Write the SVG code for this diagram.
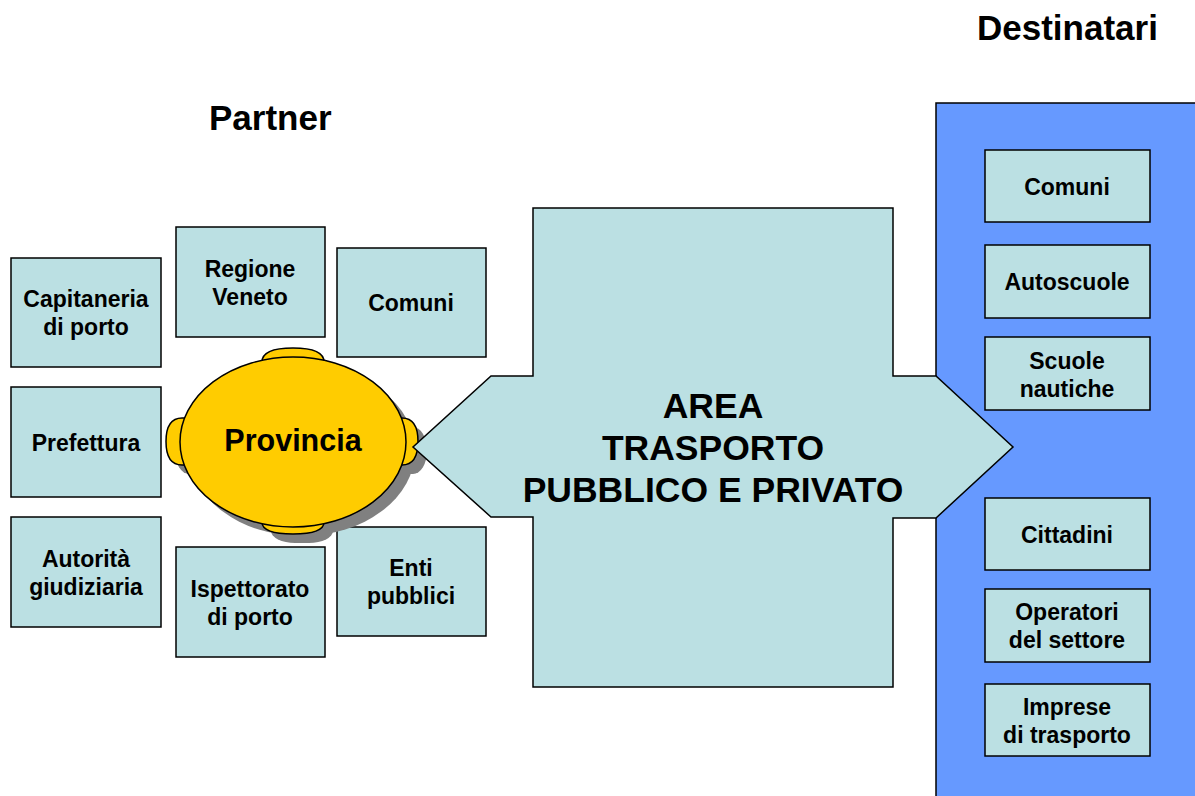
<svg xmlns="http://www.w3.org/2000/svg" width="1195" height="796" viewBox="0 0 1195 796">
<style>
.box{fill:#BBE0E3;stroke:#000;stroke-width:1.5}
.t{font-family:"Liberation Sans",Arial,sans-serif;font-weight:bold;font-size:23px;fill:#000;text-anchor:middle}
.title{font-family:"Liberation Sans",Arial,sans-serif;font-weight:bold;font-size:35px;fill:#000}
.big{font-family:"Liberation Sans",Arial,sans-serif;font-weight:bold;font-size:35.5px;fill:#000;text-anchor:middle}
.yel{fill:#FFCC00;stroke:#000;stroke-width:1.5}
</style>
<rect width="1195" height="796" fill="#fff"/>
<text class="title" x="977" y="40">Destinatari</text>
<text class="title" x="209" y="130">Partner</text>

<g id="destinatari-panel">
<rect x="936" y="103" width="270" height="700" fill="#6699FF" stroke="#000" stroke-width="1.5"/>
</g>

<g id="partner-capitaneria"><rect class="box" x="11" y="258" width="150" height="109"/><text class="t" x="86" y="307">Capitaneria</text><text class="t" x="86" y="335">di porto</text></g>
<g id="partner-regione"><rect class="box" x="176" y="227" width="149" height="110"/><text class="t" x="250" y="277">Regione</text><text class="t" x="250" y="305">Veneto</text></g>
<g id="partner-comuni"><rect class="box" x="337" y="248" width="149" height="109"/><text class="t" x="411" y="311">Comuni</text></g>
<g id="partner-prefettura"><rect class="box" x="11" y="387" width="150" height="110"/><text class="t" x="86" y="451">Prefettura</text></g>
<g id="partner-autorita"><rect class="box" x="11" y="517" width="150" height="110"/><text class="t" x="86" y="567">Autorità</text><text class="t" x="86" y="595">giudiziaria</text></g>
<g id="partner-ispettorato"><rect class="box" x="176" y="547" width="149" height="110"/><text class="t" x="250" y="597">Ispettorato</text><text class="t" x="250" y="625">di porto</text></g>
<g id="partner-enti"><rect class="box" x="337" y="527" width="149" height="109"/><text class="t" x="411" y="576">Enti</text><text class="t" x="411" y="604">pubblici</text></g>

<g id="provincia">
<g fill="#808080" transform="translate(9,9)">
<rect x="262" y="348" width="62" height="186" rx="24" ry="12"/>
<rect x="166" y="418" width="252" height="47" rx="14" ry="23"/>
<ellipse cx="293" cy="442" rx="113" ry="85"/>
</g>
<path class="yel" d="M262,362 Q262,348 293,348 Q324,348 324,362 L324,370 L262,370 Z"/>
<path class="yel" d="M262,522 Q262,534 293,534 Q324,534 324,522 L324,514 L262,514 Z"/>
<path class="yel" d="M182,418 Q166,418 166,441.5 Q166,465 182,465 L190,465 L190,418 Z"/>
<path class="yel" d="M402,418 Q418,418 418,441.5 Q418,465 402,465 L396,465 L396,418 Z"/>
<ellipse class="yel" cx="293" cy="442" rx="113" ry="85"/>
<text x="293" y="451" font-family="Liberation Sans,Arial,sans-serif" font-weight="bold" font-size="30.5" text-anchor="middle" fill="#000">Provincia</text>
</g>

<g id="area">
<polygon points="533,208 893,208 893,376 936,376 1013,447 936,518 893,518 893,687 533,687 533,517 491,517 413,447 491,376 533,376" fill="#BBE0E3" stroke="#000" stroke-width="1.5"/>
<text class="big" x="713" y="418">AREA</text>
<text class="big" x="713" y="460">TRASPORTO</text>
<text class="big" x="713" y="502">PUBBLICO E PRIVATO</text>
</g>

<g id="dest-comuni"><rect class="box" x="985" y="150" width="165" height="72"/><text class="t" x="1067" y="195">Comuni</text></g>
<g id="dest-autoscuole"><rect class="box" x="985" y="245" width="165" height="73"/><text class="t" x="1067" y="290">Autoscuole</text></g>
<g id="dest-scuole"><rect class="box" x="985" y="337" width="165" height="73"/><text class="t" x="1067" y="369">Scuole</text><text class="t" x="1067" y="397">nautiche</text></g>
<g id="dest-cittadini"><rect class="box" x="985" y="498" width="165" height="72"/><text class="t" x="1067" y="543">Cittadini</text></g>
<g id="dest-operatori"><rect class="box" x="985" y="589" width="165" height="73"/><text class="t" x="1067" y="620">Operatori</text><text class="t" x="1067" y="648">del settore</text></g>
<g id="dest-imprese"><rect class="box" x="985" y="684" width="165" height="72"/><text class="t" x="1067" y="715">Imprese</text><text class="t" x="1067" y="743">di trasporto</text></g>
<g id="connectors"></g>
</svg>
